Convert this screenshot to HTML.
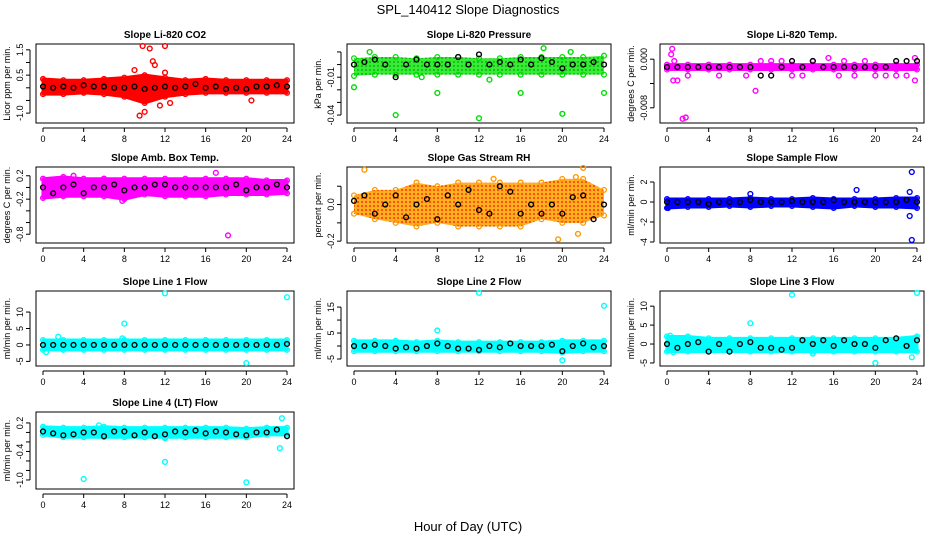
<!DOCTYPE html>
<html><head><meta charset="utf-8"><style>
html,body{margin:0;padding:0;background:#fff}
svg{display:block;font-family:"Liberation Sans",sans-serif}
</style></head><body>
<svg id="chart" width="936" height="540" viewBox="0 0 936 540" xmlns="http://www.w3.org/2000/svg">
<defs>
<pattern id="pat-rh" width="4" height="4" patternUnits="userSpaceOnUse"><rect width="4" height="4" fill="#ffb020"/><circle cx="2" cy="2" r="1" fill="#ff3300"/></pattern>
<pattern id="pat-pres" width="4" height="4" patternUnits="userSpaceOnUse"><rect width="4" height="4" fill="#33ee33"/><circle cx="2" cy="2" r="0.9" fill="#119911"/></pattern>
</defs>
<text x="468" y="14" font-size="13" text-anchor="middle">SPL_140412  Slope Diagnostics</text>
<text x="468" y="531" font-size="13" text-anchor="middle">Hour of Day (UTC)</text>
</svg>
<script>
// ----- data arrays -----
const xTicks = [0,4,8,12,16,20,24];
const bandHours = [0,2,4,6,8,10,12,14,16,18,20,22,24];
const meanHours = [0,1,2,3,4,5,6,7,8,9,10,11,12,13,14,15,16,17,18,19,20,21,22,23,24];

const co2Lo = [-0.25,-0.25,-0.2,-0.25,-0.35,-0.6,-0.35,-0.25,-0.2,-0.2,-0.2,-0.2,-0.2];
const co2Hi = [0.35,0.3,0.3,0.35,0.4,0.5,0.4,0.3,0.35,0.3,0.3,0.3,0.3];
const co2Mean = [0.05,0.0,0.05,0.0,0.1,0.05,0.05,0.0,0.0,0.05,-0.05,0.0,0.05,0.0,0.05,0.15,0.0,0.05,-0.05,0.0,-0.05,0.05,0.05,0.1,0.05];
const co2Out = [[9.8,1.65],[10.5,1.55],[12,1.65],[9.5,-1.1],[10,-0.95],[12.5,-0.6],[11,0.9],[12,0.6],[9,0.7],[10.8,1.05],[11.5,-0.7],[20.5,-0.5]];

const presLo = [-0.009,-0.008,-0.008,-0.008,-0.008,-0.008,-0.008,-0.008,-0.008,-0.008,-0.008,-0.008,-0.008];
const presHi = [0.005,0.006,0.006,0.005,0.006,0.006,0.005,0.005,0.006,0.006,0.006,0.006,0.007];
const presMean = [0.0,0.002,0.004,0.0,-0.01,0.0,0.004,0.0,0.0,0.0,0.006,0.0,0.008,0.0,0.002,0.0,0.004,0.0,0.005,0.002,-0.003,0.0,0.0,0.002,0.0];
const presOut = [[4,-0.04],[12,-0.0425],[8,-0.0225],[16,-0.0225],[20,-0.039],[24,-0.0225],[0,-0.018],[1.5,0.01],[18.2,0.013],[20.8,0.01],[13,-0.012],[6.5,-0.01]];

const tempLo = [-0.0017,-0.0017,-0.0017,-0.0017,-0.0017,-0.0017,-0.0017,-0.0017,-0.0017,-0.0017,-0.0017,-0.0017,-0.0017];
const tempHi = [-0.0009,-0.0009,-0.0009,-0.0009,-0.0009,-0.0009,-0.0009,-0.0009,-0.0009,-0.0009,-0.0009,-0.0009,-0.0009];
const tempMean = [-0.0013,-0.0013,-0.0013,-0.0013,-0.0013,-0.0013,-0.0013,-0.0013,-0.0013,-0.0027,-0.0027,-0.0013,-0.0003,-0.0013,-0.0003,-0.0013,-0.0013,-0.0013,-0.0013,-0.0013,-0.0013,-0.0013,-0.0003,-0.0003,-0.0003];
const tempOut = [[0.5,0.0017],[0.4,0.0008],[0.7,-0.0003],[1.5,-0.0098],[1.8,-0.0096],[8.5,-0.0052],[15.5,0.0002],[23.8,-0.0035],[23.8,0.0002],[0.6,-0.0035],[1,-0.0035],[2,-0.0027],[5,-0.0027],[7.6,-0.0027],[9,-0.0003],[10,-0.0003],[13,-0.0027],[14,-0.0003],[16.5,-0.0027],[18,-0.0027],[19,-0.0003],[20,-0.0027],[21,-0.0027],[22,-0.0027],[23,-0.0027],[12,-0.0027],[11,-0.0003],[17,-0.0003]];

const ambLo = [-0.18,-0.15,-0.15,-0.15,-0.2,-0.12,-0.15,-0.15,-0.15,-0.12,-0.12,-0.12,-0.1];
const ambHi = [0.15,0.18,0.15,0.15,0.15,0.15,0.15,0.15,0.15,0.15,0.15,0.12,0.12];
const ambMean = [0.0,-0.1,0.0,0.05,-0.1,0.0,0.0,0.05,-0.05,0.0,0.0,0.05,0.05,0.0,0.0,0.0,0.0,0.0,0.0,0.05,-0.05,0.0,0.0,0.05,0.0];
const ambOut = [[18.2,-0.82],[17,0.25],[7.8,-0.23],[3,0.2],[6,0.15]];

const rhLo = [-0.05,-0.08,-0.1,-0.12,-0.1,-0.12,-0.12,-0.12,-0.12,-0.08,-0.1,-0.1,-0.06];
const rhHi = [0.05,0.08,0.08,0.12,0.1,0.12,0.12,0.12,0.12,0.12,0.14,0.14,0.08];
const rhMean = [0.02,0.05,-0.05,0.0,0.05,-0.07,0.0,0.03,-0.08,0.05,0.0,0.08,-0.03,-0.05,0.1,0.07,-0.05,0.0,-0.05,0.0,-0.05,0.04,0.05,-0.08,0.0];
const rhOut = [[1,0.19],[22,0.2],[19.6,-0.19],[21.5,-0.16],[13.4,0.14],[21.3,0.15]];

const flowLo = [-0.6,-0.5,-0.5,-0.4,-0.5,-0.4,-0.4,-0.5,-0.6,-0.4,-0.5,-0.5,-0.6];
const flowHi = [0.3,0.3,0.3,0.3,0.4,0.3,0.3,0.4,0.3,0.3,0.3,0.4,0.4];
const flowMean = [0,0,0,0,-0.2,0,0,0,0.2,0,0,0,0.1,0,0,0,0.2,0,0,0,0,0,0,0.2,0];
const flowOut = [[23.5,3],[23.5,-3.8],[23.3,-1.4],[18.2,1.2],[8,0.8],[0.1,-0.6],[23.3,1]];

const l1Lo = [-1.5,-1.5,-1.5,-1.5,-1.5,-1.5,-1.5,-1.5,-1.5,-1.5,-1.5,-1.5,-1.5];
const l1Hi = [1.5,1.5,1.5,1.5,1.5,1.5,1.5,1.5,1.5,1.5,1.5,1.5,1.5];
const l1Mean = [0,0,0,0,0,0,0,0,0,0,0,0,0,0,0,0,0,0,0,0,0,0,0,0,0.3];
const l1Out = [[12,15.7],[24,14.5],[8,6.5],[20,-5.5],[1.5,2.5],[0.3,-2.2],[7.8,2]];

const l2Lo = [-2,-2,-2,-2,-2,-2,-2,-2,-2,-2,-2.5,-2,-2];
const l2Hi = [2,2,2,1.5,2,1.5,1.5,1.5,1.5,1.5,2,2,2];
const l2Mean = [0,0,0.5,0,-1,-0.5,-1,0,1,0,-1,-1,-1.5,0,-0.5,1,0,0,0,0.5,-2,0,1,-0.5,0];
const l2Out = [[12,20.5],[24,15.5],[8,6],[20,-5.5]];

const l3Lo = [-2,-2,-2,-2,-2,-2,-2,-2,-2,-2,-2,-2,-2];
const l3Hi = [2,2,1.5,1.5,1.5,1.5,1.5,1.5,1.5,1.5,1.5,1.5,2];
const l3Mean = [0,-1,0,0.5,-2,0,-2,0,0.5,-1,-1,-1.5,-1,1,0,1,-0.5,1,0,0,-1,1,1.5,-0.5,1];
const l3Out = [[12,13],[24,13.5],[8,5.5],[20,-5],[23.5,-3.5],[14,-2.5],[0.3,2.2],[0.6,-2.2]];

const l4Lo = [-0.05,-0.1,-0.1,-0.1,-0.1,-0.1,-0.1,-0.1,-0.1,-0.1,-0.1,-0.05,-0.05];
const l4Hi = [0.12,0.1,0.1,0.12,0.1,0.1,0.1,0.1,0.1,0.1,0.08,0.1,0.1];
const l4Mean = [0.02,-0.02,-0.06,-0.04,0.0,0.0,-0.08,0.02,0.02,-0.06,0.0,-0.08,-0.04,0.02,0.0,0.04,-0.02,0.02,0.0,-0.04,-0.06,0.0,0.0,0.06,-0.08];
const l4Out = [[23.5,0.3],[4,-0.98],[20,-1.05],[12,-0.62],[23.3,-0.33],[12,-0.12],[5.5,0.15]];

const panels = [
 {name:"co2",title:"Slope Li-820 CO2",ylab:"Licor ppm per min.",col:0,row:0,ymin:-1.39,ymax:1.73,ticks:[-1,-0.5,0,0.5,1,1.5],labels:[[-1,"-1.0"],[0.5,"0.5"],[1.5,"1.5"]],color:"#ff0000",fill:"#ff0000",lo:co2Lo,hi:co2Hi,mean:co2Mean,out:co2Out},
 {name:"pressure",title:"Slope Li-820 Pressure",ylab:"kPa per min.",col:1,row:0,ymin:-0.0463,ymax:0.0163,ticks:[0.01,0,-0.01,-0.02,-0.03,-0.04],labels:[[-0.01,"-0.01"],[-0.04,"-0.04"]],color:"#00dd00",fill:"url(#pat-pres)",lo:presLo,hi:presHi,mean:presMean,out:presOut},
 {name:"temp",title:"Slope Li-820 Temp.",ylab:"degrees C per min.",col:2,row:0,ymin:-0.0105,ymax:0.0025,ticks:[0,-0.004,-0.008],labels:[[0,"0.000"],[-0.008,"-0.008"]],color:"#ff00ff",fill:"#ff00ff",lo:tempLo,hi:tempHi,mean:tempMean,out:tempOut},
 {name:"amb-box-temp",title:"Slope Amb. Box Temp.",ylab:"degrees C per min.",col:0,row:1,ymin:-0.95,ymax:0.35,ticks:[0.2,0,-0.2,-0.4,-0.6,-0.8],labels:[[0.2,"0.2"],[-0.2,"-0.2"],[-0.8,"-0.8"]],color:"#ff00ff",fill:"#ff00ff",lo:ambLo,hi:ambHi,mean:ambMean,out:ambOut},
 {name:"gas-rh",title:"Slope Gas Stream RH",ylab:"percent per min.",col:1,row:1,ymin:-0.21,ymax:0.205,ticks:[0.1,0,-0.1,-0.2],labels:[[0,"0.0"],[-0.2,"-0.2"]],color:"#ff9900",fill:"url(#pat-rh)",lo:rhLo,hi:rhHi,mean:rhMean,out:rhOut},
 {name:"sample-flow",title:"Slope Sample Flow",ylab:"ml/min per min.",col:2,row:1,ymin:-4.1,ymax:3.5,ticks:[2,0,-2,-4],labels:[[2,"2"],[0,"0"],[-2,"-2"],[-4,"-4"]],color:"#0000ff",fill:"#0000ff",lo:flowLo,hi:flowHi,mean:flowMean,out:flowOut},
 {name:"line1-flow",title:"Slope Line 1 Flow",ylab:"ml/min per min.",col:0,row:2,ymin:-6.4,ymax:16.4,ticks:[-5,0,5,10],labels:[[-5,"-5"],[0,"0"],[5,"5"],[10,"10"]],color:"#00ffff",fill:"#00ffff",lo:l1Lo,hi:l1Hi,mean:l1Mean,out:l1Out},
 {name:"line2-flow",title:"Slope Line 2 Flow",ylab:"ml/min per min.",col:1,row:2,ymin:-7.7,ymax:21.2,ticks:[-5,0,5,10,15],labels:[[-5,"-5"],[5,"5"],[15,"15"]],color:"#00ffff",fill:"#00ffff",lo:l2Lo,hi:l2Hi,mean:l2Mean,out:l2Out},
 {name:"line3-flow",title:"Slope Line 3 Flow",ylab:"ml/min per min.",col:2,row:2,ymin:-5.8,ymax:14,ticks:[-5,0,5,10],labels:[[-5,"-5"],[0,"0"],[5,"5"],[10,"10"]],color:"#00ffff",fill:"#00ffff",lo:l3Lo,hi:l3Hi,mean:l3Mean,out:l3Out},
 {name:"line4-flow",title:"Slope Line 4 (LT) Flow",ylab:"ml/min per min.",col:0,row:3,ymin:-1.19,ymax:0.43,ticks:[0.2,0,-0.2,-0.4,-0.6,-0.8,-1.0],labels:[[0.2,"0.2"],[-0.4,"-0.4"],[-1.0,"-1.0"]],color:"#00ffff",fill:"#00ffff",lo:l4Lo,hi:l4Hi,mean:l4Mean,out:l4Out}
];

// ----- layout -----
const colX = [[36,294],[347,611],[660,924]];
const rowY = [[44,123],[167,243],[291,366],[412,489]];
const NS = "http://www.w3.org/2000/svg";
const svg = document.getElementById("chart");
function mk(tag, attrs, parent){
  const e = document.createElementNS(NS, tag);
  for (const k in attrs) e.setAttribute(k, attrs[k]);
  (parent||svg).appendChild(e);
  return e;
}
panels.forEach(p=>{
  const [x0,x1] = colX[p.col], [y0,y1] = rowY[p.row];
  const xs = h => x0 + 7 + (h/24)*(x1-x0-14);
  const ys = v => y1 - (v-p.ymin)/(p.ymax-p.ymin)*(y1-y0);
  const g = mk("g",{});
  
  
  const t = mk("text",{x:(x0+x1)/2,y:y0-6,"font-size":"10","font-weight":"bold","text-anchor":"middle"},g);
  t.textContent = p.title;
  
  
  const box = mk("rect",{x:x0,y:y0,width:x1-x0,height:y1-y0,fill:"none",stroke:"#000","stroke-width":"1"},g);
  
  
  // x axis
  const ax = y1+5;
  const xl = mk("line",{x1:xs(0),x2:xs(24),y1:ax,y2:ax,stroke:"#000"},g);
  
  
  xTicks.forEach(v=>{
    mk("line",{x1:xs(v),x2:xs(v),y1:ax,y2:ax+4,stroke:"#000"},g);
    const tl = mk("text",{x:xs(v),y:ax+14,"font-size":"9","text-anchor":"middle"},g);
    tl.textContent = v;
    
    
  });
  // y axis
  const yx = x0-6;
  const tv = p.ticks;
  const yl = mk("line",{x1:yx,x2:yx,y1:ys(Math.max(...tv)),y2:ys(Math.min(...tv)),stroke:"#000"},g);
  
  
  tv.forEach(v=>mk("line",{x1:yx-4,x2:yx,y1:ys(v),y2:ys(v),stroke:"#000"},g));
  p.labels.forEach(([v,s])=>{
    const yy = ys(v);
    const tl = mk("text",{x:yx-7,y:yy,"font-size":"9","text-anchor":"middle",transform:`rotate(-90 ${yx-7} ${yy})`},g);
    tl.textContent = s;
    
    
  });
  const lx = x0-26, ly=(y0+y1)/2;
  const yt = mk("text",{x:lx,y:ly,"font-size":"9","text-anchor":"middle",transform:`rotate(-90 ${lx} ${ly})`},g);
  yt.textContent = p.ylab;
  
  
  // band cloud
  const isPat = p.fill.startsWith("url");
  let pts = bandHours.map((h,i)=>xs(h)+","+ys(p.hi[i]));
  pts = pts.concat(bandHours.slice().reverse().map((h,j)=>xs(h)+","+ys(p.lo[bandHours.length-1-j])));
  const band = mk("polygon",{points:pts.join(" "),fill:p.fill,stroke:isPat?"none":p.color,"stroke-width":"3","stroke-linejoin":"round"},g);
  
  
  bandHours.forEach((h,i)=>{
    [p.lo[i],p.hi[i]].forEach(v=>{
      const c = mk("circle",{cx:xs(h),cy:ys(v),r:2.4,fill:"none",stroke:p.color,"stroke-width":"1.3"},g);
      
      
    });
  });
  p.out.forEach(([h,v])=>{
    const c = mk("circle",{cx:xs(h),cy:ys(v),r:2.4,fill:"none",stroke:p.color,"stroke-width":"1.4"},g);
    
    
  });
  meanHours.forEach((h,i)=>{
    const c = mk("circle",{cx:xs(h),cy:ys(p.mean[i]),r:2.4,fill:"none",stroke:"#000","stroke-width":"1.4"},g);
    
    
  });
});
</script>
</body></html>
